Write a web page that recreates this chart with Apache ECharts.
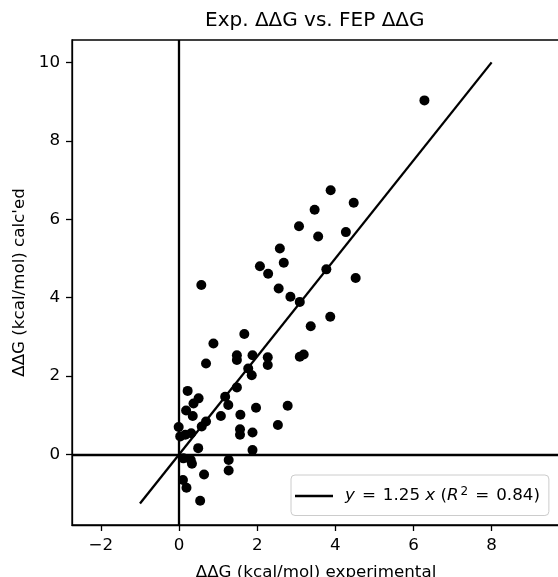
<!DOCTYPE html>
<html>
<head>
<meta charset="utf-8">
<script src="https://cdn.jsdelivr.net/npm/echarts@6/dist/echarts.min.js"></script>
<style>
html,body{margin:0;padding:0;background:#fff;}
#chart{width:558px;height:577px;}
</style>
</head>
<body>
<div id="chart"></div>
<script>
const titleText = 'Exp. ΔΔG vs. FEP ΔΔG';
const xName = 'ΔΔG (kcal/mol) experimental';
const yName = "ΔΔG (kcal/mol) calc'ed";
const xTicks = [-2, 0, 2, 4, 6, 8];
const yTicks = [0, 2, 4, 6, 8, 10];
const expX = [0.57,2.55,1.67,0.88,1.48,1.48,1.88,2.27,2.27,0.69,1.77,1.86,1.48,0.22,0.50,0.37,1.18,1.26,0.18,0.35,1.97,1.07,1.57,0.69,0.58,2.53,-0.01,0.03,0.16,0.31,1.56,1.56,1.88,0.49,1.88,0.11,0.30,0.33,1.27,1.27,0.64,0.10,0.19,0.54,3.88,4.47,3.47,3.07,3.56,4.27,2.58,2.68,2.07,2.28,3.77,4.52,2.85,3.09,3.87,3.37,3.09,3.19,2.78,6.28];
const calcY = [4.32,4.23,3.07,2.83,2.53,2.41,2.53,2.48,2.28,2.32,2.19,2.02,1.71,1.62,1.43,1.30,1.47,1.26,1.12,0.98,1.19,0.98,1.01,0.84,0.71,0.75,0.70,0.46,0.50,0.54,0.64,0.50,0.56,0.16,0.11,-0.10,-0.14,-0.24,-0.14,-0.41,-0.51,-0.65,-0.85,-1.18,6.74,6.42,6.24,5.82,5.56,5.67,5.25,4.89,4.80,4.61,4.72,4.50,4.02,3.89,3.51,3.27,2.49,2.55,1.24,9.03];
const fitX = [-1, 8];
const slope = 1.25;
const r2 = 0.84;

const font = 'DejaVu Sans';
const fs = 16.7;
const scatterData = expX.map((x, i) => [x, calcY[i]]);
const fitData = fitX.map(x => [x, slope * x]);
const fmt = v => String(v).replace('-', '\u2212');

const chart = echarts.init(document.getElementById('chart'), null, {renderer: 'canvas'});
chart.setOption({
  animation: false,
  backgroundColor: '#fff',
  title: {
    text: titleText,
    left: 205,
    top: 11,
    padding: 0,
    textStyle: {fontFamily: font, fontSize: 20, fontWeight: 'normal', color: '#000'}
  },
  grid: {
    left: 72, top: 40, width: 488, height: 485,
    containLabel: false, outerBoundsMode: 'none',
    show: true, borderColor: '#000', borderWidth: 1.3, backgroundColor: '#fff'
  },
  legend: {
    left: 291, top: 475,
    padding: [11, 9, 11, 4],
    backgroundColor: 'rgba(255,255,255,0.8)',
    borderColor: '#cccccc', borderWidth: 1, borderRadius: 4,
    itemWidth: 38, itemHeight: 20,
    data: [{name: 'fit', icon: 'path://M0,9 L38,9 L38,11.4 L0,11.4 Z'}],
    formatter: () => '{i|y}{e|=}' + slope.toFixed(2) + ' {i|x} ({i|R}{s|2}{e|=}' + r2.toFixed(2) + ')',
    textStyle: {
      fontFamily: font, fontSize: fs, color: '#000', padding: [0, 0, 0, 7],
      rich: {
        i: {fontFamily: font, fontSize: fs, fontStyle: 'italic', color: '#000'},
        e: {fontFamily: font, fontSize: fs, color: '#000', padding: [0, 7, 0, 7]},
        s: {fontFamily: font, fontSize: 12, color: '#000', verticalAlign: 'top', padding: [0, 0, 8, 2]}
      }
    }
  },
  xAxis: {
    type: 'value', min: -2.74, max: 9.75,
    name: xName, nameLocation: 'middle', nameGap: 39,
    nameTextStyle: {fontFamily: font, fontSize: fs, color: '#000'},
    axisLine: {show: true, onZero: false, lineStyle: {color: '#000', width: 1.3}},
    axisTick: {show: true, length: 6, customValues: xTicks, lineStyle: {color: '#000', width: 1.3}},
    axisLabel: {customValues: xTicks, formatter: fmt, margin: 12, fontFamily: font, fontSize: fs, color: '#000'},
    splitLine: {show: false}
  },
  yAxis: {
    type: 'value', min: -1.80, max: 10.57,
    name: yName, nameLocation: 'middle', nameGap: 44,
    nameTextStyle: {fontFamily: font, fontSize: fs, color: '#000'},
    axisLine: {show: true, onZero: false, lineStyle: {color: '#000', width: 1.3}},
    axisTick: {show: true, length: 6, customValues: yTicks, lineStyle: {color: '#000', width: 1.3}},
    axisLabel: {customValues: yTicks, formatter: fmt, margin: 12, fontFamily: font, fontSize: fs, color: '#000'},
    splitLine: {show: false}
  },
  series: [
    {
      name: 'fit', type: 'line', data: fitData, symbol: 'none',
      lineStyle: {color: '#000', width: 2.3}, itemStyle: {color: '#000'},
      z: 3,
      markLine: {
        silent: true, symbol: 'none', label: {show: false},
        lineStyle: {color: '#000', width: 2.3, type: 'solid'},
        data: [{xAxis: 0}, {yAxis: 0}]
      }
    },
    {
      name: 'data', type: 'scatter', data: scatterData, symbol: 'circle', symbolSize: 10,
      itemStyle: {color: '#000', opacity: 1}, z: 4
    }
  ]
});
</script>
</body>
</html>
